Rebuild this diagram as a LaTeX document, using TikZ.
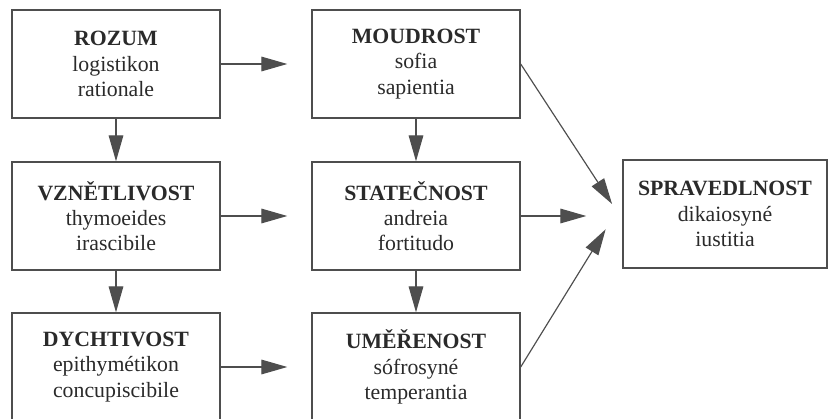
\documentclass[tikz,border=0pt]{standalone}
\usepackage{fontspec}
\setmainfont{Liberation Serif}
\usetikzlibrary{arrows.meta}
\definecolor{inkgray}{HTML}{2A2A2A}
\definecolor{linegray}{HTML}{4E4E4E}
\def\colone{116}
\def\coltwo{416}

\begin{document}
\begin{tikzpicture}[x=0.03cm,y=-0.03cm,>={Triangle[length=7.8mm,width=4.4mm]}]
      \tikzstyle{part}=[rectangle, draw=linegray, line width=1.2pt, minimum width=6.24cm, minimum height=3.24cm, inner sep=0pt, align=center, text=inkgray, font=\fontsize{18.6pt}{21.5pt}\selectfont]
      \tikzstyle{link}=[->, draw=linegray, line width=1pt]

      \clip (0,0) rectangle (828,419);

      % Draw the parts of the soul
      \node[part] (S-ROZUM) at (\colone,64) {\textbf{ROZUM}\\logistikon\\rationale};
      \node[part] (S-VZNET) at (\colone,216) {\textbf{VZNĚTLIVOST}\\thymoeides\\irascibile};
      \node[part] (S-DYCHT) at (\colone,367) {\textbf{DYCHTIVOST}\\epithymétikon\\concupiscibile};

      % Draw the virtues
      \node[part] (V-MOUDR) at (\coltwo,64) {\textbf{MOUDROST}\\sofia\\sapientia};
      \node[part] (V-STATE) at (\coltwo,216) {\textbf{STATEČNOST}\\andreia\\fortitudo};
      \node[part] (V-UMERE) at (\coltwo,367) {\textbf{UMĚŘENOST}\\sófrosyné\\temperantia};

      % Draw the justice node
      \node[part, minimum width=6.12cm] (SPRAV) at (725,214) {\textbf{SPRAVEDLNOST}\\dikaiosyné\\iustitia};

      % Connect the columns downwards
      \foreach \source/\dest in {S-ROZUM/S-VZNET, S-VZNET/S-DYCHT, V-MOUDR/V-STATE, V-STATE/V-UMERE}
          \path (\source) edge[link] (\dest);

      % Connect every part with its virtue
      \foreach \source/\dest in {S-ROZUM/V-MOUDR, S-VZNET/V-STATE, S-DYCHT/V-UMERE}
          \path (\source) edge[link, shorten >=0.72cm] (\dest);

      % Lead the virtues to justice
      \draw[link, shorten >=0.56cm] (V-MOUDR.east) -- ([yshift=-0.17cm]SPRAV.west);
      \draw[link, shorten >=1.08cm] (V-STATE.east) -- (V-STATE.east -| SPRAV.west);
      \draw[link, shorten >=0.95cm] (V-UMERE.east) -- ([yshift=0.35cm]SPRAV.west);
  \end{tikzpicture}
\end{document}
